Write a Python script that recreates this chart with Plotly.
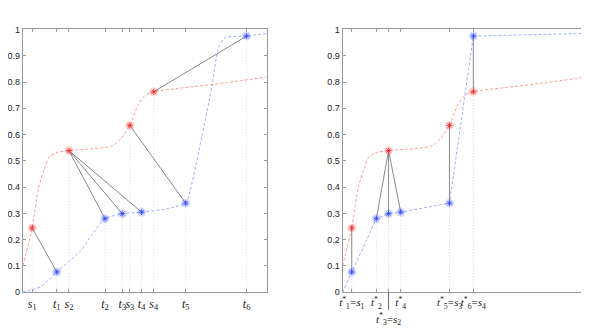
import plotly.graph_objects as go

# matched points
s_x = [0.038, 0.189, 0.439, 0.537]
s_y = [0.245, 0.539, 0.635, 0.763]
t_x = [0.139, 0.337, 0.408, 0.487, 0.668, 0.918]
t_y = [0.077, 0.280, 0.299, 0.305, 0.339, 0.975]
tstar_x = [0.038, 0.139, 0.189, 0.239, 0.439, 0.537]
pairs = [(0, 0), (1, 1), (1, 2), (1, 3), (2, 4), (3, 5)]

# curves
red_x = [0, 0.038, 0.065, 0.088, 0.108, 0.14, 0.189, 0.26, 0.33, 0.37, 0.405,
         0.439, 0.472, 0.50, 0.537, 0.668, 0.83, 1.0]
red_y = [0.10, 0.245, 0.40, 0.47, 0.515, 0.532, 0.539, 0.544, 0.550, 0.558, 0.588,
         0.635, 0.711, 0.748, 0.763, 0.779, 0.797, 0.819]
blue_x = [0, 0.074, 0.139, 0.236, 0.283, 0.337, 0.408, 0.487, 0.587, 0.668, 0.681,
          0.736, 0.776, 0.803, 0.830, 0.918, 1.0]
blue_y = [0, 0.022, 0.077, 0.157, 0.219, 0.280, 0.299, 0.305, 0.317, 0.339, 0.366,
          0.600, 0.785, 0.932, 0.969, 0.975, 0.985]
blue_end = [1.0, 0.985]

yticks = [0, 0.1, 0.2, 0.3, 0.4, 0.5, 0.6, 0.7, 0.8, 0.9, 1]
ytext = ["0", "0.1", "0.2", "0.3", "0.4", "0.5", "0.6", "0.7", "0.8", "0.9", "1"]

left_lbl = ["<i>s</i><sub>1</sub>", "<i>t</i><sub>1</sub>", "<i>s</i><sub>2</sub>",
            "<i>t</i><sub>2</sub>", "<i>t</i><sub>3</sub>", "<i>s</i><sub>3</sub>",
            "<i>t</i><sub>4</sub>", "<i>s</i><sub>4</sub>", "<i>t</i><sub>5</sub>",
            "<i>t</i><sub>6</sub>"]
right_lbl = ["<i>t</i><sup>*</sup><sub>1</sub>=<i>s</i><sub>1</sub>",
             "<i>t</i><sup>*</sup><sub>2</sub>", "",
             "<i>t</i><sup>*</sup><sub>4</sub>",
             "<i>t</i><sup>*</sup><sub>5</sub>=<i>s</i><sub>3</sub>",
             "<i>t</i><sup>*</sup><sub>6</sub>=<i>s</i><sub>4</sub>"]
low_lbl = "<i>t</i><sup>*</sup><sub>3</sub>=<i>s</i><sub>2</sub>"

RED = "rgba(255,90,90,0.6)"
BLUE = "rgba(100,120,255,0.6)"
GREY = "#8a8a8a"
DOT = "#dedede"

fig = go.Figure()


def add_panel(tx, xa, ya, blue_xs, blue_ys, spline_blue):
    fig.add_trace(go.Scatter(x=red_x, y=red_y, mode="lines", xaxis=xa, yaxis=ya,
                             line=dict(color=RED, width=1, dash="3px,2px", shape="spline", smoothing=0.6),
                             hoverinfo="skip"))
    fig.add_trace(go.Scatter(x=blue_xs, y=blue_ys, mode="lines", xaxis=xa, yaxis=ya,
                             line=dict(color=BLUE, width=1, dash="3px,2px",
                                       shape="spline" if spline_blue else "linear", smoothing=0.6),
                             hoverinfo="skip"))
    # dotted drop lines
    dx, dy = [], []
    for x, y in list(zip(s_x, s_y)) + list(zip(tx, t_y)):
        dx += [x, x, None]
        dy += [0, y, None]
    fig.add_trace(go.Scatter(x=dx, y=dy, mode="lines", xaxis=xa, yaxis=ya,
                             line=dict(color=DOT, width=1, dash="1px,2px"), hoverinfo="skip"))
    # matching lines
    mx, my = [], []
    for i, j in pairs:
        mx += [s_x[i], tx[j], None]
        my += [s_y[i], t_y[j], None]
    fig.add_trace(go.Scatter(x=mx, y=my, mode="lines", xaxis=xa, yaxis=ya,
                             line=dict(color=GREY, width=1), hoverinfo="skip"))
    for xs, ys, c, h in [(s_x, s_y, "rgb(235,40,40)", "rgba(255,60,60,0.2)"),
                         (tx, t_y, "rgb(50,70,240)", "rgba(60,80,255,0.2)")]:
        fig.add_trace(go.Scatter(x=xs, y=ys, mode="markers", xaxis=xa, yaxis=ya,
                                 marker=dict(symbol="circle", size=9, color=h, line=dict(width=0))))
        fig.add_trace(go.Scatter(x=xs, y=ys, mode="markers", xaxis=xa, yaxis=ya,
                                 marker=dict(symbol="asterisk-open", size=5, color=c,
                                             line=dict(color=c, width=0.8))))


add_panel(t_x, "x", "y", blue_x, blue_y, True)
add_panel(tstar_x, "x2", "y2", [0] + tstar_x + [blue_end[0]], [0] + t_y + [blue_end[1]], False)

left_vals = sorted(s_x + t_x)
ax_common = dict(range=[0, 1], showgrid=False, zeroline=False, showline=True, mirror="ticks",
                 linecolor="#9a9a9a", linewidth=1, ticks="inside", ticklen=3, tickcolor="#9a9a9a")
yax = dict(ax_common, tickvals=yticks, ticktext=ytext,
           tickfont=dict(family="Liberation Sans, Arial", size=9, color="#222"))
xfont = dict(family="Liberation Serif", size=12, color="#222")
xfont2 = dict(family="Liberation Serif", size=11, color="#222")

# page is shown with an 8px body margin, so positions are shifted by -8px
fig.update_layout(
    width=589, height=330, margin=dict(l=0, r=0, t=0, b=0),
    plot_bgcolor="white", paper_bgcolor="white", showlegend=False,
    xaxis=dict(ax_common, domain=[7 / 589, 254 / 589], tickvals=left_vals,
               ticktext=left_lbl, tickfont=xfont, tickangle=0, anchor="y"),
    yaxis=dict(yax, domain=[42 / 330, 313 / 330], anchor="x"),
    xaxis2=dict(ax_common, domain=[331 / 589, 578 / 589], tickvals=tstar_x,
                ticktext=right_lbl, tickfont=xfont2, tickangle=0, anchor="y2"),
    yaxis2=dict(yax, domain=[42 / 330, 313 / 330], anchor="x2"),
    annotations=[dict(x=tstar_x[2], y=0, xref="x2", yref="y2", text=low_lbl,
                      showarrow=True, arrowhead=0, arrowwidth=1, arrowcolor="#666",
                      ax=0, ay=27, font=xfont2)],
)

fig.write_html("out.html")
